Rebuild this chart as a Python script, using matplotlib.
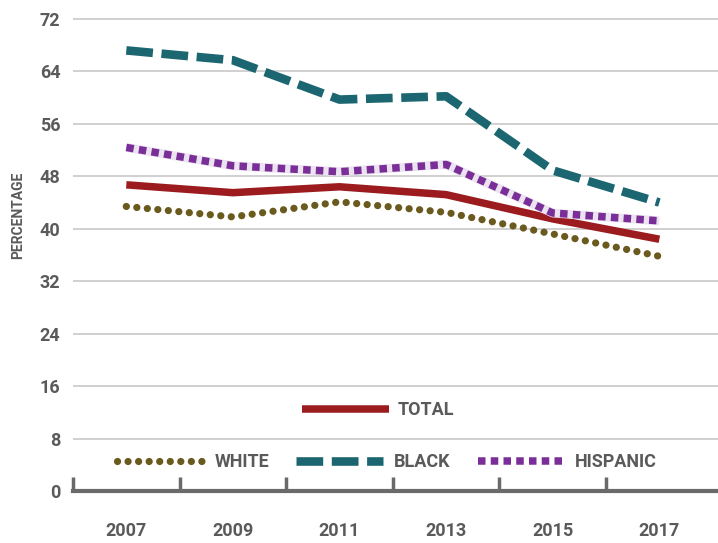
import matplotlib
matplotlib.use("Agg")
import matplotlib.pyplot as plt

# data
years = [2007, 2009, 2011, 2013, 2015, 2017]
total = [46.7, 45.5, 46.4, 45.2, 41.5, 38.4]
white = [43.4, 41.8, 44.1, 42.5, 39.2, 35.8]
black = [67.2, 65.7, 59.7, 60.2, 48.9, 44.0]
hispanic = [52.4, 49.6, 48.7, 49.8, 42.4, 41.2]
yticks = [0, 8, 16, 24, 32, 40, 48, 56, 64, 72]
minor_years = [2006, 2008, 2010, 2012, 2014, 2016]

plt.rcParams["font.family"] = ["Roboto", "DejaVu Sans"]
gray = "#5a5a5a"

fig = plt.figure(figsize=(7.18, 5.43), dpi=100)
ax = fig.add_axes([73 / 718, 52 / 543, 645 / 718, 476 / 543])

l_total, = ax.plot(years, total, color="#9b1b1e", lw=5.4, solid_capstyle="butt", label="TOTAL")
l_white, = ax.plot(years, white, color="#6b5a1e", lw=5.2, linestyle=(0, (0.01, 1.45)),
                   dash_capstyle="round", label="WHITE")
l_black, = ax.plot(years, black, color="#1b6670", lw=6.2, linestyle=(0, (3.1, 1.0)),
                   dash_capstyle="butt", label="BLACK")
# light halo behind the purple squares
ax.plot(years, hispanic, color="#ece3f1", lw=6.4, solid_capstyle="butt")
l_hisp, = ax.plot(years, hispanic, color="#7a2f98", lw=5.4, linestyle=(0, (1.0, 0.7)),
                  dash_capstyle="butt", label="HISPANIC")

ax.set_xlim(2006, 2018.1)
ax.set_ylim(0, 72.6)
ax.set_yticks(yticks)
ax.set_xticks(years)
ax.set_xticks(minor_years, minor=True)
ax.grid(axis="y", color="#c8c8c8", lw=1.2)
ax.set_axisbelow(True)

for s in ["top", "right", "left"]:
    ax.spines[s].set_visible(False)
ax.spines["bottom"].set_color("#6a6a6a")
ax.spines["bottom"].set_linewidth(3)

ax.tick_params(axis="y", length=0, pad=9, labelsize=13, labelcolor=gray)
ax.tick_params(axis="x", which="major", length=0, pad=22, labelsize=13, labelcolor=gray)
ax.tick_params(axis="x", which="minor", direction="in", length=10, width=2.5, color="#6a6a6a")
for lab in ax.get_xticklabels() + ax.get_yticklabels():
    lab.set_fontweight("bold")

fig.text(18 / 718, 1 - 215 / 543, "PERCENTAGE", rotation=90, ha="center", va="center",
         fontsize=10, fontweight="bold", color=gray)

leg1 = fig.legend(handles=[l_total], loc="center", bbox_to_anchor=(0.527, 0.245),
                  frameon=False, handlelength=4.8, handletextpad=0.5,
                  prop={"weight": "bold", "size": 13})
leg2 = fig.legend(handles=[l_white, l_black, l_hisp], loc="center", ncol=3,
                  bbox_to_anchor=(0.539, 0.149), frameon=False, handlelength=4.8,
                  handletextpad=0.6, columnspacing=1.5,
                  prop={"weight": "bold", "size": 13})
for leg in (leg1, leg2):
    for t in leg.get_texts():
        t.set_color(gray)

fig.savefig("out.png", dpi=100)
